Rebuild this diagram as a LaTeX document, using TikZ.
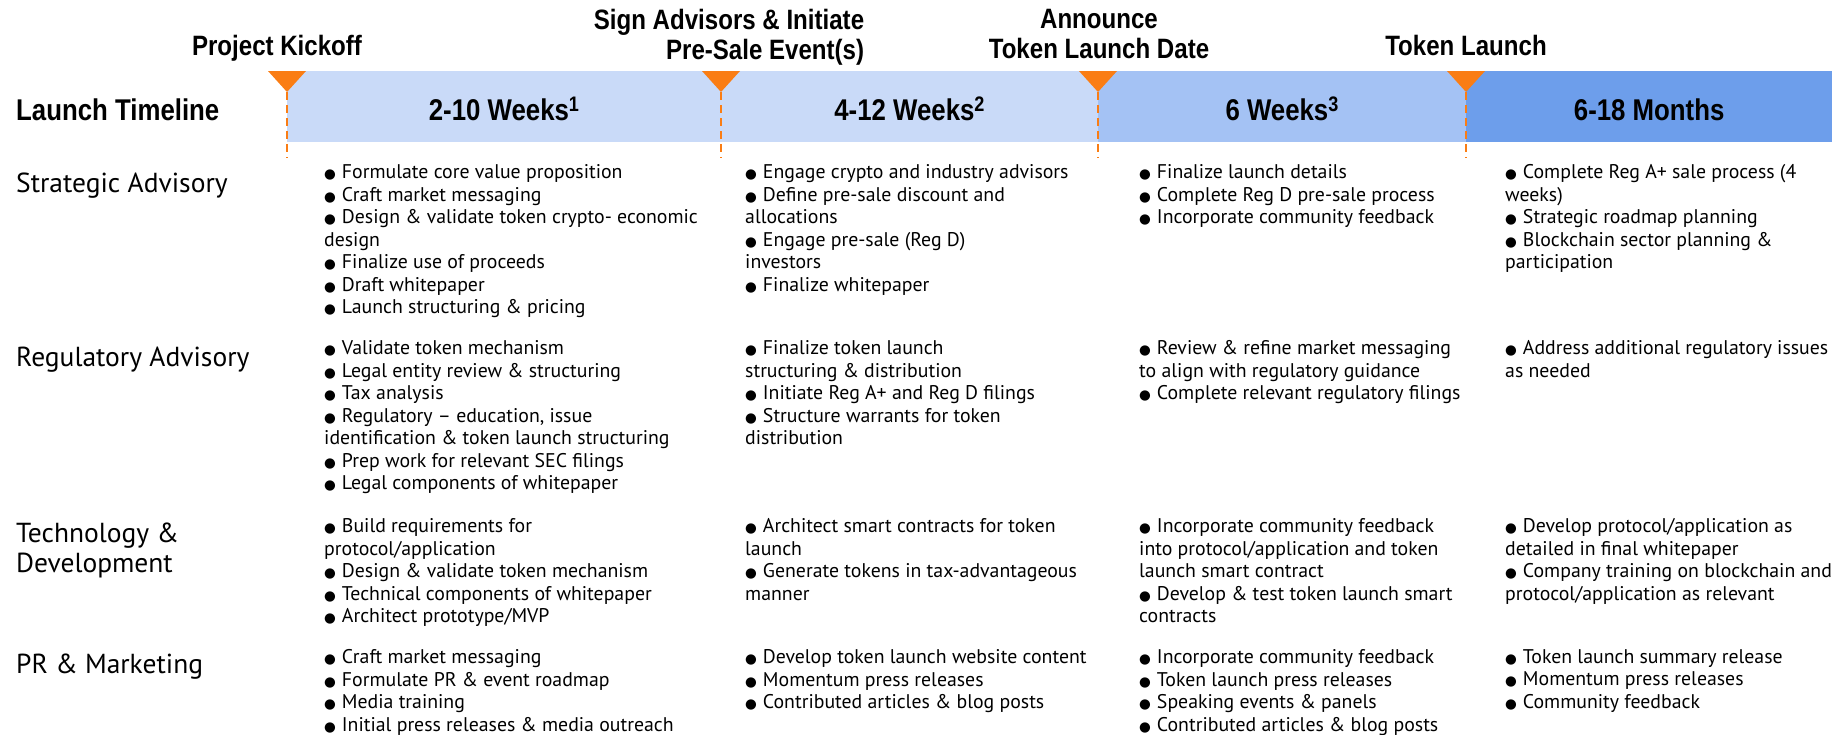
\documentclass[tikz,border=0pt]{standalone}
\usepackage{fontspec}
\setmainfont{PT Sans}
\newfontfamily\hdfont{Liberation Sans}[FakeStretch=0.86]
\newfontfamily\symfont{DejaVu Sans}
\definecolor{barlight}{HTML}{C9DAF8}
\definecolor{barmid}{HTML}{A4C2F4}
\definecolor{bardark}{HTML}{6D9EEB}
\definecolor{mkorange}{HTML}{FA7D14}
\tikzset{
  seg/.style={draw=none, inner sep=0pt, anchor=north west, minimum height=71pt,
    font=\hdfont\bfseries\fontsize{30}{32}\selectfont, text height=28pt, text depth=0pt},
  mslabel/.style={inner sep=0pt, align=center, font=\hdfont\bfseries\fontsize{28}{30}\selectfont},
  rowlabel/.style={inner sep=0pt, anchor=north west, align=left,
    font=\fontsize{27.5}{30}\selectfont, execute at begin node=\strut},
  items/.style={inner sep=0pt, anchor=north west, align=left,
    font=\fontsize{19.8}{22.5}\selectfont, execute at begin node=\strut},
  marker/.style={fill=mkorange},
  guide/.style={draw=mkorange, line width=2pt, dash pattern=on 8pt off 5pt}
}
% list bullet: a filled circle followed by a fixed gap
\newcommand{\bul}{{\symfont\fontsize{13.5}{13.5}\selectfont ●}\hspace{6pt}}
\begin{document}
\begin{tikzpicture}[x=1pt,y=-1pt]
\useasboundingbox (0,0) rectangle (1832,734);

% timeline bar
\node[seg, fill=barlight, minimum width=434pt] (s1) at (287,71) {2-10 Weeks\textsuperscript{1}};
\node[seg, fill=barlight, minimum width=377pt] (s2) at (721,71) {4-12 Weeks\textsuperscript{2}};
\node[seg, fill=barmid,   minimum width=368pt] (s3) at (1098,71) {6 Weeks\textsuperscript{3}};
\node[seg, fill=bardark,  minimum width=366pt] (s4) at (1466,71) {6-18 Months};
\node[anchor=base west, inner sep=0pt, font=\hdfont\bfseries\fontsize{30}{32}\selectfont] (tl) at (16,120.7) {Launch Timeline};

% milestone markers
\foreach \m in {1,2,3,4} {
  \coordinate (m\m) at (s\m.north west);
  \fill[marker] (m\m) ++(-19,0) -- ++(38,0) -- ++(-19,21) -- cycle;
  \draw[guide] (m\m) ++(0,21) -- ++(0,66);
}

% milestone labels
\node[mslabel, anchor=base] (k1) at (277,55.5) {Project Kickoff};
\node[mslabel, anchor=north, align=right, execute at begin node=\strut] (k2) at (729,9) {Sign Advisors \& Initiate\\Pre-Sale Event(s)};
\node[mslabel, anchor=north, execute at begin node=\strut] (k3) at (1099,9) {Announce\\Token Launch Date};
\node[mslabel, anchor=base] (k4) at (1466,55.5) {Token Launch};

% row labels
\node[rowlabel] (r1) at (16,171) {Strategic Advisory};
\node[rowlabel] (r2) at (16,345) {Regulatory Advisory};
\node[rowlabel] (r3) at (16,523) {Technology \&\\Development};
\node[rowlabel] (r4) at (16,652) {PR \& Marketing};

% strategic advisory
\node[items] (a1) at (324,164.4) {\bul Formulate core value proposition\\\bul Craft market messaging\\\bul Design \& validate token crypto- economic\\design\\\bul Finalize use of proceeds\\\bul Draft whitepaper\\\bul Launch structuring \& pricing};
\node[items] (a2) at (745,164.4) {\bul Engage crypto and industry advisors\\\bul Define pre-sale discount and\\allocations\\\bul Engage pre-sale (Reg D)\\investors\\\bul Finalize whitepaper};
\node[items] (a3) at (1139,164.4) {\bul Finalize launch details\\\bul Complete Reg D pre-sale process\\\bul Incorporate community feedback};
\node[items] (a4) at (1505,164.4) {\bul Complete Reg A+ sale process (4\\weeks)\\\bul Strategic roadmap planning\\\bul Blockchain sector planning \&\\participation};

% regulatory advisory
\node[items] (b1) at (324,340.4) {\bul Validate token mechanism\\\bul Legal entity review \& structuring\\\bul Tax analysis\\\bul Regulatory – education, issue\\identification \& token launch structuring\\\bul Prep work for relevant SEC filings\\\bul Legal components of whitepaper};
\node[items] (b2) at (745,340.4) {\bul Finalize token launch\\structuring \& distribution\\\bul Initiate Reg A+ and Reg D filings\\\bul Structure warrants for token\\distribution};
\node[items] (b3) at (1139,340.4) {\bul Review \& refine market messaging\\to align with regulatory guidance\\\bul Complete relevant regulatory filings};
\node[items] (b4) at (1505,340.4) {\bul Address additional regulatory issues\\as needed};

% technology & development
\node[items] (c1) at (324,518.4) {\bul Build requirements for\\protocol/application\\\bul Design \& validate token mechanism\\\bul Technical components of whitepaper\\\bul Architect prototype/MVP};
\node[items] (c2) at (745,518.4) {\bul Architect smart contracts for token\\launch\\\bul Generate tokens in tax-advantageous\\manner};
\node[items] (c3) at (1139,518.4) {\bul Incorporate community feedback\\into protocol/application and token\\launch smart contract\\\bul Develop \& test token launch smart\\contracts};
\node[items] (c4) at (1505,518.4) {\bul Develop protocol/application as\\detailed in final whitepaper\\\bul Company training on blockchain and\\protocol/application as relevant};

% pr & marketing
\node[items] (d1) at (324,649.4) {\bul Craft market messaging\\\bul Formulate PR \& event roadmap\\\bul Media training\\\bul Initial press releases \& media outreach};
\node[items] (d2) at (745,649.4) {\bul Develop token launch website content\\\bul Momentum press releases\\\bul Contributed articles \& blog posts};
\node[items] (d3) at (1139,649.4) {\bul Incorporate community feedback\\\bul Token launch press releases\\\bul Speaking events \& panels\\\bul Contributed articles \& blog posts};
\node[items] (d4) at (1505,649.4) {\bul Token launch summary release\\\bul Momentum press releases\\\bul Community feedback};
\end{tikzpicture}
\end{document}
